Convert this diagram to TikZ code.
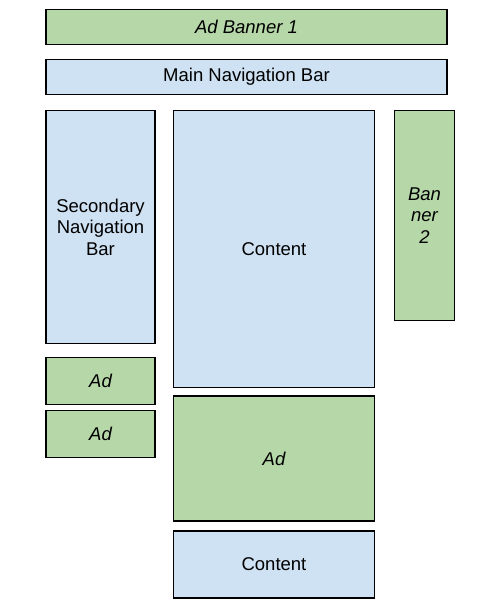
\documentclass[tikz,border=0pt]{standalone}
\usepackage{fontspec}
\setmainfont{Liberation Sans}
\usetikzlibrary{positioning}
\definecolor{adgreen}{HTML}{B6D7A8}
\definecolor{pageblue}{HTML}{CFE2F3}
\newcommand\layoutfont{\fontsize{18.5}{21.5}\selectfont}

\begin{document}
\begin{tikzpicture}[
  x=1pt, y=-1pt,
  box/.style={draw, line width=1.5pt, inner sep=0pt, outer sep=0pt, align=center, text=black, font=\layoutfont},
  ad/.style={box, fill=adgreen, font=\layoutfont\itshape},
  page/.style={box, fill=pageblue}
]
\useasboundingbox (0,0) rectangle (500,608);
\node[ad, minimum width=401pt, minimum height=35pt, anchor=north west] (ban1) at (46,9.5) {Ad Banner 1};
\node[page, minimum width=401pt, minimum height=35pt, below=15pt of ban1] (mainnav) {Main Navigation Bar};
\node[page, minimum width=109pt, minimum height=233pt, below=16pt of mainnav.south west, anchor=north west] (secnav) {Secondary\\Navigation\\Bar};
\node[page, minimum width=201pt, minimum height=277pt, right=18.5pt of secnav.north east, anchor=north west] (content) {Content};
\node[ad, minimum width=60pt, minimum height=210pt, right=20pt of content.north east, anchor=north west] (ban2) {Ban\\ner\\2};
\node[ad, minimum width=109pt, minimum height=47pt, below=14pt of secnav.south west, anchor=north west] (adone) {Ad};
\node[ad, minimum width=109pt, minimum height=47pt, below=6pt of adone.south west, anchor=north west] (adtwo) {Ad};
\node[ad, minimum width=201pt, minimum height=125pt, below=8.5pt of content] (adbig) {Ad};
\node[page, minimum width=201pt, minimum height=67pt, below=10pt of adbig] (content2) {Content};
\end{tikzpicture}
\end{document}
